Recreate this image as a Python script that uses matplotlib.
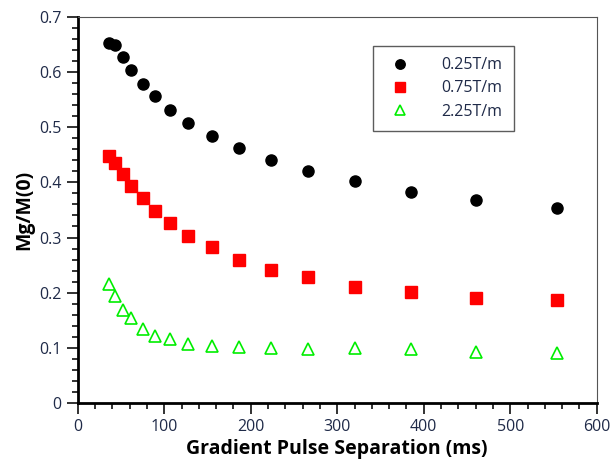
import matplotlib
matplotlib.use('Agg')
import matplotlib.pyplot as plt
from matplotlib.ticker import MultipleLocator

plt.rcParams['font.family'] = ['Open Sans', 'DejaVu Sans']

# Gradient pulse separation (ms)
sep = [36, 43, 52, 62, 75, 89, 107, 128, 155, 186, 223, 266, 320, 385, 461, 554]

# Mg/M(0) for each gradient strength
g025 = [0.653, 0.649, 0.627, 0.604, 0.578, 0.556, 0.531, 0.507, 0.485, 0.463,
        0.441, 0.421, 0.403, 0.383, 0.368, 0.354]
g075 = [0.448, 0.436, 0.416, 0.394, 0.371, 0.349, 0.327, 0.302, 0.283, 0.260,
        0.241, 0.229, 0.211, 0.202, 0.191, 0.187]
g225 = [0.216, 0.193, 0.169, 0.154, 0.134, 0.122, 0.116, 0.107, 0.104, 0.102,
        0.099, 0.098, 0.100, 0.098, 0.093, 0.091]

labels = ['0.25T/m', '0.75T/m', '2.25T/m']

fig = plt.figure(figsize=(6.12, 4.63), dpi=100)
ax = fig.add_axes([0.127, 0.13, 0.848, 0.833])

ax.plot(sep, g025, 'o', color='black', markersize=8, label=labels[0])
ax.plot(sep, g075, 's', color='#ff0000', markersize=8, label=labels[1])
ax.plot(sep, g225, '^', color='#00ee00', markerfacecolor='none',
        markeredgewidth=1.2, markersize=8, label=labels[2])

ax.set_xlim(0, 600)
ax.set_ylim(0, 0.7)
ax.xaxis.set_major_locator(MultipleLocator(100))
ax.xaxis.set_minor_locator(MultipleLocator(20))
ax.yaxis.set_major_locator(MultipleLocator(0.1))
ax.yaxis.set_minor_locator(MultipleLocator(0.02))
ax.yaxis.set_major_formatter(plt.FuncFormatter(lambda v, p: '0' if abs(v) < 1e-9 else f'{v:.1f}'))

ax.tick_params(which='both', direction='out', top=False, right=False,
               colors='#222222', labelcolor='#1f2a48', labelsize=11.5, width=1.3)
ax.tick_params(which='major', length=8)
ax.tick_params(which='minor', length=4)

ax.spines['left'].set_linewidth(2)
ax.spines['bottom'].set_linewidth(2)
ax.spines['top'].set_color('#555555')
ax.spines['right'].set_color('#555555')

ax.set_xlabel('Gradient Pulse Separation (ms)', fontsize=14, fontweight='bold', labelpad=3)
ax.set_ylabel('Mg/M(0)', fontsize=14, fontweight='bold', labelpad=4)

leg = ax.legend(loc='upper right', bbox_to_anchor=(0.84, 0.925), borderaxespad=0,
                frameon=True, fancybox=False, edgecolor='#333333', fontsize=11.5,
                markerscale=0.85, handletextpad=1.6, borderpad=0.7, labelspacing=0.45)
leg.get_frame().set_linewidth(1)
for t in leg.get_texts():
    t.set_color('#1f2a48')

fig.savefig('out.png', dpi=100)
